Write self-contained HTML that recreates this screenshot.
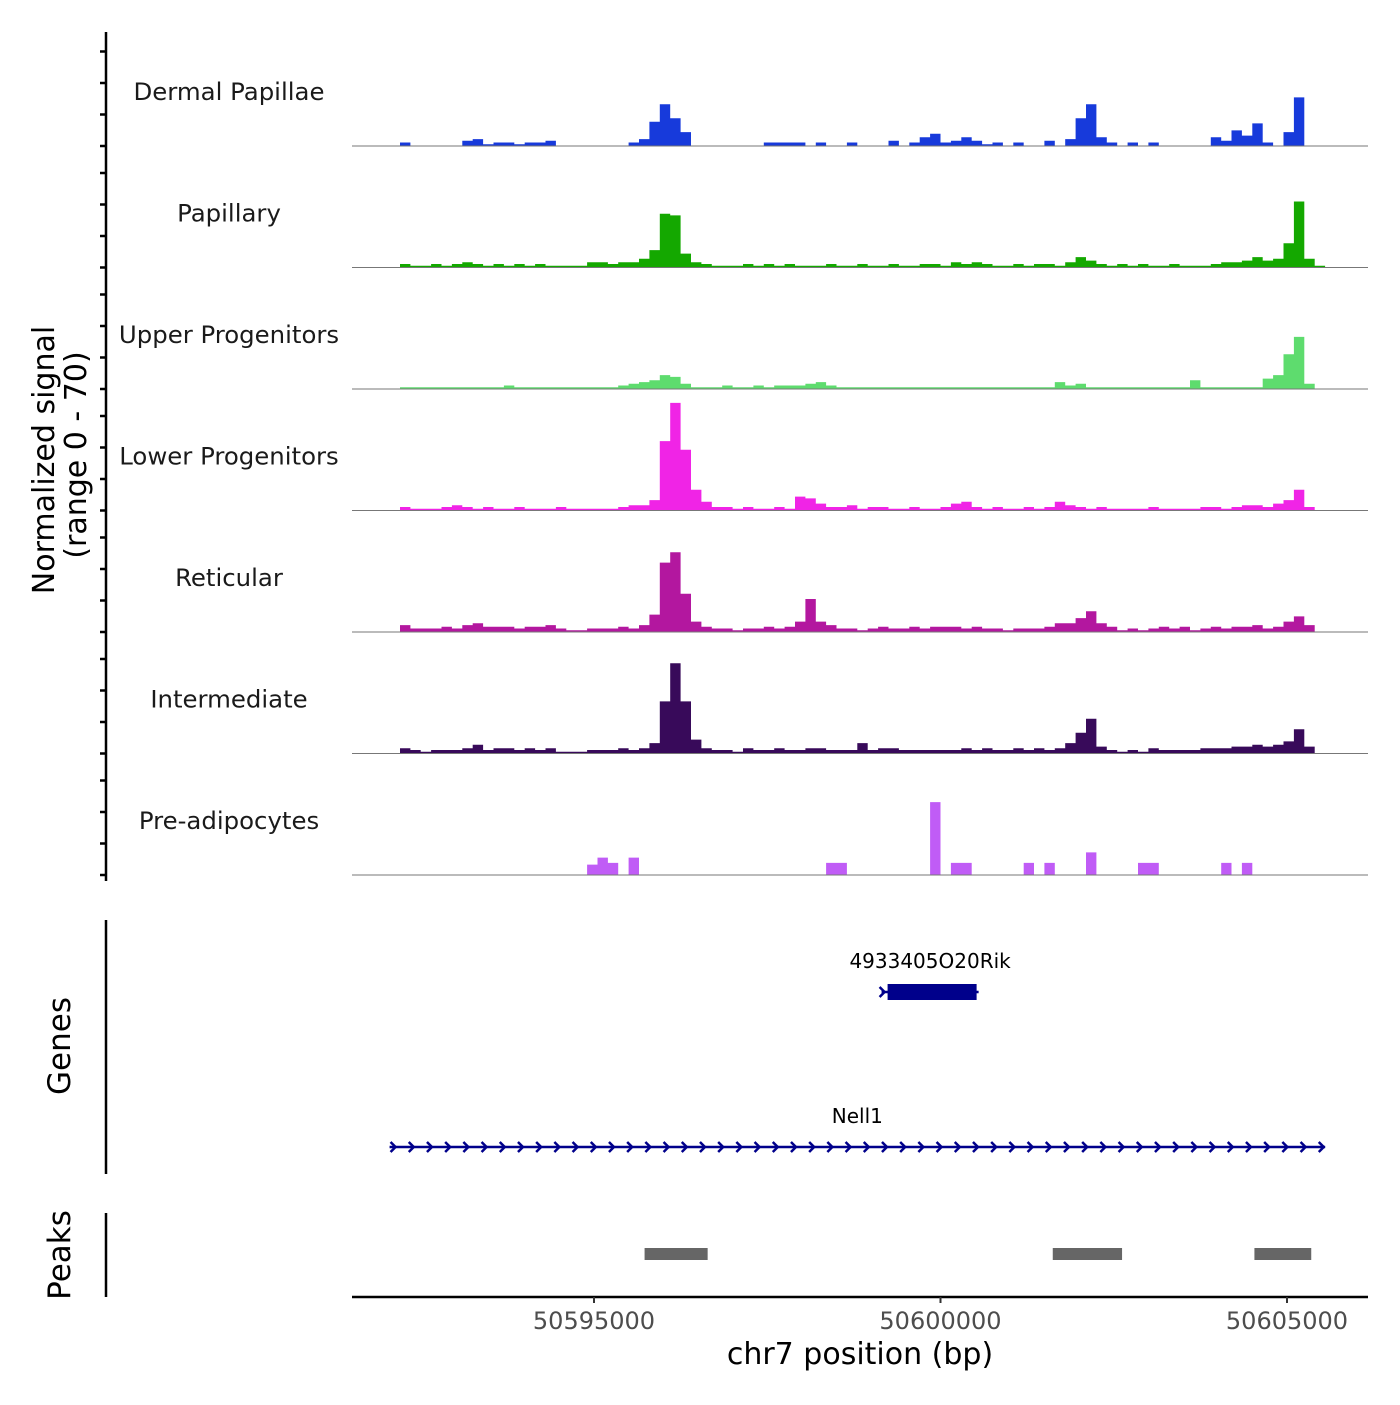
<!DOCTYPE html>
<html><head><meta charset="utf-8"><style>
html,body{margin:0;padding:0;background:#fff}
svg text{font-family:"DejaVu Sans","Liberation Sans",sans-serif}
</style></head><body>
<svg id="chart" width="1400" height="1400" viewBox="0 0 1400 1400" xmlns="http://www.w3.org/2000/svg">
<g id="tracks"></g>
<g id="yaxis"></g>
<text transform="translate(54,460) rotate(-90)" text-anchor="middle" font-size="30" fill="#000">Normalized signal</text>
<text transform="translate(86,455) rotate(-90)" text-anchor="middle" font-size="30" fill="#000">(range 0 - 70)</text>
<line x1="106" y1="920" x2="106" y2="1174" stroke="#000" stroke-width="2.5"/>
<text transform="translate(70,1046) rotate(-90)" text-anchor="middle" font-size="31">Genes</text>
<line x1="106" y1="1213" x2="106" y2="1297" stroke="#000" stroke-width="2.5"/>
<text transform="translate(70,1255) rotate(-90)" text-anchor="middle" font-size="31">Peaks</text>
<g id="genes"></g>
<g id="peaks"></g>
<g id="xaxis"></g>
<text x="860" y="1364" text-anchor="middle" font-size="30">chr7 position (bp)</text>
</svg>
<script>
const NS="http://www.w3.org/2000/svg";
const trackNames=["Dermal Papillae","Papillary","Upper Progenitors","Lower Progenitors","Reticular","Intermediate","Pre-adipocytes"];
const trackColors=["#173ADB","#14A800","#5EDC6E","#F024E6","#B3179F","#380A5A","#C05CF6"];
const binStart=50592200, binSize=150;
const dermal=[2,0,0,0,0,0,3,4,1,2,2,1,2,2,3,0,0,0,0,0,0,0,2,4,14,24,16,8,0,0,0,0,0,0,0,2,2,2,2,0,2,0,0,2,0,0,0,3,0,2,5,7,2,3,5,3,1,2,0,2,0,0,3,0,4,16,24,5,2,0,2,0,2,0,0,0,0,0,5,3,9,6,13,2,0,8,28,0,0];
const papillary=[2,1,1,2,1,2,3,2,1,2,1,2,1,2,1,1,1,1,3,3,2,3,3,5,10,31,30,8,3,2,1,1,1,2,1,2,1,2,1,1,1,2,1,1,2,1,1,2,1,1,2,2,1,3,2,3,2,1,1,2,1,2,2,1,3,6,4,2,1,2,1,2,1,1,2,1,1,1,2,3,3,4,6,4,5,14,38,5,1];
const upper=[1,1,1,1,1,1,1,1,1,1,2,1,1,1,1,1,1,1,1,1,1,2,3,4,5,8,7,3,1,1,1,2,1,1,2,1,2,2,2,3,4,2,1,1,1,1,1,1,1,1,1,1,1,1,1,1,1,1,1,1,1,1,1,4,2,3,1,1,1,1,1,1,1,1,1,1,5,1,1,1,1,1,1,6,8,20,30,3,0];
const lower=[2,1,1,1,2,3,2,1,2,1,1,2,1,1,1,2,1,1,1,1,1,2,3,3,6,40,62,35,12,5,2,2,1,2,1,1,2,1,8,7,4,2,2,3,1,2,2,1,1,2,1,1,2,4,5,2,1,2,1,1,2,1,2,5,3,2,1,2,1,1,1,1,2,1,1,1,1,2,2,1,2,3,3,2,4,6,12,2,0];
const reticular=[4,2,2,2,3,2,4,5,3,3,3,2,3,3,4,2,1,1,2,2,2,3,2,4,10,40,46,22,6,3,2,2,1,2,2,3,2,3,6,19,6,4,2,2,1,2,3,2,2,3,2,3,3,3,2,3,2,2,1,2,2,2,3,5,5,8,12,5,3,1,2,1,2,3,2,3,1,2,3,2,3,3,4,2,3,6,9,4,0];
const intermediate=[3,2,1,2,2,2,3,5,2,3,3,2,3,2,3,1,1,1,2,2,2,3,2,3,6,30,52,30,8,3,2,2,1,3,2,2,3,2,2,3,3,2,2,2,6,2,3,3,2,2,2,2,2,2,3,2,3,2,2,3,2,3,2,3,6,12,20,4,2,1,2,1,3,2,2,2,2,3,3,3,4,4,5,4,5,7,14,4,0];
const preadipo=[0,0,0,0,0,0,0,0,0,0,0,0,0,0,0,0,0,0,6,10,7,0,10,0,0,0,0,0,0,0,0,0,0,0,0,0,0,0,0,0,0,7,7,0,0,0,0,0,0,0,0,42,0,7,7,0,0,0,0,0,7,0,7,0,0,0,13,0,0,0,0,7,7,0,0,0,0,0,0,7,0,7,0,0,0,0,0,0,0];
const trackValues=[dermal,papillary,upper,lower,reticular,intermediate,preadipo];
const xTicks=[50595000,50600000,50605000];
const xTickLabels=["50595000","50600000","50605000"];
const yMax=70;
const genes=[{name:"4933405O20Rik",start:50599150,end:50600550,row:0,type:"box"},{name:"Nell1",start:50592050,end:50605550,row:1,type:"line"}];
const peakStarts=[50595730,50601620,50604530];
const peakEnds=[50596640,50602620,50605350];

const X0=352,X1=1368,D0=50591508,D1=50606169;
function xs(bp){return X0+(bp-D0)/(D1-D0)*(X1-X0);}
const trackH=121.5, base0=146;
function ys(v,k){return base0+k*trackH - v/yMax*trackH;}
function mk(tag,attrs,parent){const e=document.createElementNS(NS,tag);for(const a in attrs)e.setAttribute(a,attrs[a]);parent.appendChild(e);return e;}

const tg=document.getElementById('tracks');
trackNames.forEach((nm,k)=>{
  const vals=trackValues[k];
  const b=ys(0,k);
  let pts=[[xs(binStart),b]];
  vals.forEach((v,i)=>{const xa=xs(binStart+i*binSize),xb=xs(binStart+(i+1)*binSize);pts.push([xa,ys(v,k)]);pts.push([xb,ys(v,k)]);});
  pts.push([xs(binStart+vals.length*binSize),b]);
  const p=mk('polygon',{points:pts.map(q=>q[0].toFixed(1)+','+q[1].toFixed(1)).join(' '),fill:trackColors[k]},tg);
  
  
  const l=mk('line',{x1:X0,x2:X1,y1:b,y2:b,stroke:'#777','stroke-width':1},tg);
  
  
  const t=mk('text',{x:229,y:b-46,'text-anchor':'middle','font-size':24.4,fill:'#1a1a1a'},tg);
  t.textContent=nm;
  
  
});

const ya=document.getElementById('yaxis');
const ax=mk('line',{x1:106,x2:106,y1:32,y2:881,stroke:'#000','stroke-width':2.5},ya);


for(let k=0;k<7;k++){
  const b=base0+k*trackH;
  [-94.5,-63,-31.5,0].forEach(o=>{
    const y=b+o;
    const tk=mk('line',{x1:100,x2:106,y1:y,y2:y,stroke:'#000','stroke-width':2.5},ya);
    
    
  });
}

const gg=document.getElementById('genes');
genes.forEach(g=>{
  const y=g.row===0?992:1147;
  const xa=xs(g.start),xb=xs(g.end);
  const lbl=mk('text',{x:(xa+xb)/2,y:y-24,'text-anchor':'middle','font-size':20,fill:'#000'},gg);
  lbl.textContent=g.name;
  
  
  const ln=mk('line',{x1:xa,x2:xb,y1:y,y2:y,stroke:'#00008B','stroke-width':2.5},gg);
  
  
  if(g.type==='box'){
    const r=mk('rect',{x:xa+6,y:y-8,width:xb-xa-8,height:16,fill:'#00008B'},gg);
    
    
    const a=mk('path',{d:`M${xa-2},${y-5} L${xa+3},${y} L${xa-2},${y+5}`,stroke:'#00008B','stroke-width':2.5,fill:'none'},gg);
    
    
  } else {
    for(let x=xa+4;x<=xb+1;x+=18.2){
      const a=mk('path',{d:`M${x-3},${y-5} L${x+2},${y} L${x-3},${y+5}`,stroke:'#00008B','stroke-width':2.5,fill:'none'},gg);
      
      
    }
  }
});

const pg=document.getElementById('peaks');
peakStarts.forEach((s,i)=>{
  const r=mk('rect',{x:xs(s),y:1248,width:xs(peakEnds[i])-xs(s),height:12,fill:'#666'},pg);
  
  
});

const xg=document.getElementById('xaxis');
const xl=mk('line',{x1:X0,x2:X1,y1:1297,y2:1297,stroke:'#000','stroke-width':2.5},xg);


xTicks.forEach((t,i)=>{
  const x=xs(t);
  const tk=mk('line',{x1:x,x2:x,y1:1297,y2:1303,stroke:'#333','stroke-width':2},xg);
  
  
  const tl=mk('text',{x:x,y:1329,'text-anchor':'middle','font-size':24,fill:'#4d4d4d'},xg);
  tl.textContent=xTickLabels[i];
  
  
});
</script>
</body></html>
